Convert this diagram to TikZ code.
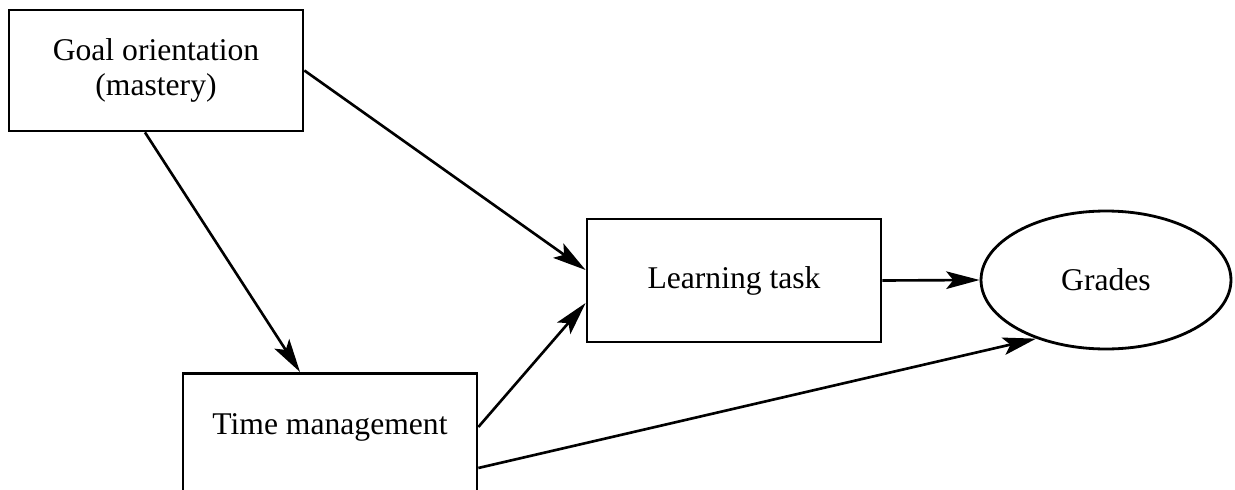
\documentclass[tikz,border=0pt]{standalone}
\usepackage{fontspec}
\setmainfont{Liberation Serif}
\usetikzlibrary{arrows.meta,shapes.geometric}

\begin{document}
\begin{tikzpicture}%
[x=0.02cm, y=-0.02cm,%
font=\fontsize{18}{20}\selectfont,%
boxes/.style={draw, line width=1.6pt, shape=rectangle, minimum width=5.88cm, align=center},%
oval/.style={draw, line width=1.6pt, shape=ellipse, minimum width=5cm, minimum height=2.76cm},%
arr/.style={line width=1.5pt, -{Stealth[length=19pt, width=10pt, inset=4pt]}}]

\useasboundingbox (0,0) rectangle (1235,490);
\clip (0,0) rectangle (1235,490);

\node[boxes, minimum height=2.42cm] (goal) at (156,70.5) {Goal orientation\\(mastery)};
\node[boxes, minimum height=2.46cm] (learn) at (734,280.5) {Learning task};
\node[oval] (grades) at (1106,280) {Grades};
\node[boxes, anchor=north, text height=1.11cm, text depth=1.2cm] (time) at (330,372) {Time management};

\draw[arr] (goal.east) -- ([yshift=0.21cm]learn.west);
\draw[arr] ([xshift=-0.22cm]goal.south) -- ([xshift=-0.6cm]time.north);
\draw[arr] ([yshift=-1.1cm]time.north east) -- ([yshift=-0.45cm]learn.west);
\draw[arr] ([yshift=-1.92cm]time.north east) -- (grades.220);
\draw[arr] (learn.east) -- (grades.west);
\end{tikzpicture}
\end{document}
